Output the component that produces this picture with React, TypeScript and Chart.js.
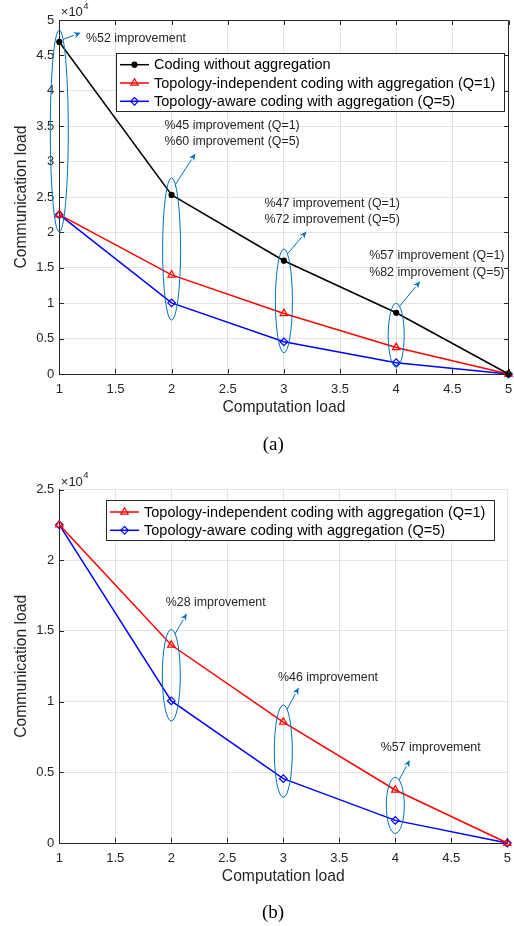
import React, { useEffect, useRef } from 'react';
import { Chart, registerables } from 'chart.js';
Chart.register(...registerables);

// ---------- data ----------
const computationLoad = [1, 2, 3, 4, 5];
const codingWithoutAggregation = [46900, 25300, 16000, 8650, 0];
const topologyIndependent = [22500, 14000, 8550, 3750, 0];
const topologyAware = [22500, 10050, 4550, 1600, 0];

const labelNoAgg = 'Coding without aggregation';
const labelIndep = 'Topology-independent coding with aggregation (Q=1)';
const labelAware = 'Topology-aware coding with aggregation (Q=5)';

const xAxisTitle = 'Computation load';
const yAxisTitle = 'Communication load';

// annotation ellipses (data units) and texts, panel (a)
const ellipseXA = [1, 2, 3, 4];
const ellipseTopA = [48600, 27700, 17660, 9990];
const ellipseBottomA = [20060, 7600, 3000, 950];
const annotationTextsA = [
  ['%52 improvement'],
  ['%45 improvement (Q=1)', '%60 improvement (Q=5)'],
  ['%47 improvement (Q=1)', '%72 improvement (Q=5)'],
  ['%57 improvement (Q=1)', '%82 improvement (Q=5)'],
];
// panel (b)
const ellipseXB = [2, 3, 4];
const ellipseTopB = [15100, 9760, 4650];
const ellipseBottomB = [8630, 3230, 680];
const annotationTextsB = [['%28 improvement'], ['%46 improvement'], ['%57 improvement']];

// ---------- styling / layout (not data) ----------
const SANS = '"Liberation Sans", Arial, Helvetica, sans-serif';
const AX = '#262626';
const GRID = '#e3e3e3';
const ANN = '#0072BD';

const arrowStyleA = [
  { hw: 9, arrow: [17.7, -6.7], text: [5.3, 6] },
  { hw: 9, arrow: [20, -31], text: [-31, -28] },
  { hw: 8.5, arrow: [19, -22.3], text: [-42, -27.7] },
  { hw: 8, arrow: [20.6, -25], text: [-51, -25.3] },
];
const arrowStyleB = [
  { hw: 9, arrow: [11.7, -20.3], text: [-21, -11] },
  { hw: 9, arrow: [11.7, -21.7], text: [-20.7, -10] },
  { hw: 9, arrow: [10.7, -20], text: [-29, -12.4] },
];

type Series = { label: string; data: number[]; color: string; style: string; radius: number; filled: boolean };

const seriesNoAgg: Series = { label: labelNoAgg, data: codingWithoutAggregation, color: '#000000', style: 'circle', radius: 2.5, filled: true };
const seriesIndep: Series = { label: labelIndep, data: topologyIndependent, color: '#ff0000', style: 'triangle', radius: 4.3, filled: false };
const seriesAware: Series = { label: labelAware, data: topologyAware, color: '#0000ff', style: 'rectRot', radius: 3.8, filled: false };

function drawMarker(ctx: CanvasRenderingContext2D, s: Series, x: number, y: number) {
  const r = s.radius;
  ctx.beginPath();
  if (s.style === 'circle') {
    ctx.arc(x, y, r, 0, Math.PI * 2);
  } else if (s.style === 'triangle') {
    for (let i = 0; i < 3; i++) {
      const a = (i * 2 * Math.PI) / 3;
      const px = x + Math.sin(a) * r;
      const py = y - Math.cos(a) * r;
      if (i === 0) ctx.moveTo(px, py);
      else ctx.lineTo(px, py);
    }
    ctx.closePath();
  } else {
    ctx.moveTo(x, y - r);
    ctx.lineTo(x + r, y);
    ctx.lineTo(x, y + r);
    ctx.lineTo(x - r, y);
    ctx.closePath();
  }
  if (s.filled) {
    ctx.fillStyle = s.color;
    ctx.fill();
  }
  ctx.strokeStyle = s.color;
  ctx.lineWidth = 1.2;
  ctx.stroke();
}

type PanelOpts = {
  series: Series[];
  yMax: number;
  box: boolean;
  legendDx: number;
  legendDy: number;
  ellX: number[];
  ellTop: number[];
  ellBot: number[];
  texts: string[][];
  arrows: { hw: number; arrow: number[]; text: number[] }[];
  caption: string;
  captionX: number;
  captionY: number;
  canvasH: number;
  padTop: number;
  padRight: number;
  xAxisH: number;
};

function makeConfig(o: PanelOpts): any {
  const overlay = {
    id: 'overlay',
    afterDatasetsDraw(chart: any) {
      const { ctx, chartArea: ca, scales } = chart;
      const xs = scales.x;
      const ys = scales.y;
      ctx.save();
      ctx.strokeStyle = AX;
      ctx.lineWidth = 1;
      const L = Math.round(ca.left) + 0.5;
      const R = Math.round(ca.right) - 0.5;
      const T = Math.round(ca.top) + 0.5;
      const B = Math.round(ca.bottom) - 0.5;
      if (o.box) {
        ctx.beginPath();
        ctx.moveTo(L, T);
        ctx.lineTo(R, T);
        ctx.lineTo(R, B);
        ctx.stroke();
      }
      // inward ticks
      const tl = 4.5;
      ctx.beginPath();
      xs.ticks.forEach((t: any) => {
        const px = Math.round(xs.getPixelForValue(t.value)) + 0.5;
        ctx.moveTo(px, B);
        ctx.lineTo(px, B - tl);
        if (o.box) {
          ctx.moveTo(px, T);
          ctx.lineTo(px, T + tl);
        }
      });
      ys.ticks.forEach((t: any) => {
        const py = Math.round(ys.getPixelForValue(t.value)) + 0.5;
        ctx.moveTo(L, py);
        ctx.lineTo(L + tl, py);
        if (o.box) {
          ctx.moveTo(R, py);
          ctx.lineTo(R - tl, py);
        }
      });
      ctx.stroke();

      // ellipses, arrows, texts
      ctx.strokeStyle = ANN;
      ctx.fillStyle = ANN;
      ctx.lineWidth = 1;
      o.ellX.forEach((xv, i) => {
        const st = o.arrows[i];
        const cx = xs.getPixelForValue(xv);
        const yt = ys.getPixelForValue(o.ellTop[i]);
        const yb = ys.getPixelForValue(o.ellBot[i]);
        const cy = (yt + yb) / 2;
        const b = (yb - yt) / 2;
        ctx.strokeStyle = ANN;
        ctx.beginPath();
        ctx.ellipse(cx, cy, st.hw, b, 0, 0, Math.PI * 2);
        ctx.stroke();
        const th = (65 * Math.PI) / 180;
        const sx = cx + st.hw * Math.cos(th);
        const sy = cy - b * Math.sin(th);
        const ex = sx + st.arrow[0];
        const ey = sy + st.arrow[1];
        const ang = Math.atan2(st.arrow[1], st.arrow[0]);
        const hl = 7;
        const hw = 3;
        const bx = ex - hl * Math.cos(ang);
        const by = ey - hl * Math.sin(ang);
        ctx.beginPath();
        ctx.moveTo(sx, sy);
        ctx.lineTo(bx, by);
        ctx.stroke();
        ctx.beginPath();
        ctx.moveTo(ex, ey);
        ctx.lineTo(bx + hw * Math.sin(ang), by - hw * Math.cos(ang));
        ctx.lineTo(bx + 2 * Math.cos(ang), by + 2 * Math.sin(ang));
        ctx.lineTo(bx - hw * Math.sin(ang), by + hw * Math.cos(ang));
        ctx.closePath();
        ctx.fill();
        ctx.save();
        ctx.fillStyle = AX;
        ctx.font = `12.4px ${SANS}`;
        ctx.textAlign = 'left';
        ctx.textBaseline = 'middle';
        o.texts[i].forEach((line, k) => {
          ctx.fillText(line, ex + st.text[0], ey + st.text[1] + k * 16.2);
        });
        ctx.restore();
      });
      ctx.restore();
    },
    afterDraw(chart: any) {
      const { ctx, chartArea: ca } = chart;
      ctx.save();
      // axis titles
      ctx.fillStyle = AX;
      ctx.font = `15.7px ${SANS}`;
      ctx.textAlign = 'center';
      ctx.textBaseline = 'middle';
      ctx.fillText(xAxisTitle, (ca.left + ca.right) / 2, ca.bottom + 34);
      ctx.save();
      ctx.translate(21.7, (ca.top + ca.bottom) / 2);
      ctx.rotate(-Math.PI / 2);
      ctx.fillText(yAxisTitle, 0, 0);
      ctx.restore();
      // exponent
      ctx.textAlign = 'left';
      ctx.font = `13px ${SANS}`;
      const base = '\u00d710';
      ctx.fillText(base, ca.left + 1.5, ca.top - 7.5);
      const w = ctx.measureText(base).width;
      ctx.font = `9.5px ${SANS}`;
      ctx.fillText('4', ca.left + 1.5 + w + 0.5, ca.top - 14);
      // legend
      ctx.font = `14.5px ${SANS}`;
      let maxW = 0;
      o.series.forEach((s) => (maxW = Math.max(maxW, ctx.measureText(s.label).width)));
      const lx = ca.left + o.legendDx;
      const ly = ca.top + o.legendDy;
      const rowH = 18.3;
      const bw = maxW + 38 + 9;
      const bh = o.series.length * rowH + 3.5;
      ctx.fillStyle = '#ffffff';
      ctx.fillRect(lx, ly, bw, bh);
      ctx.strokeStyle = AX;
      ctx.lineWidth = 1;
      ctx.strokeRect(Math.round(lx) + 0.5, Math.round(ly) + 0.5, Math.round(bw), Math.round(bh));
      o.series.forEach((s, i) => {
        const yy = ly + 12 + i * rowH;
        ctx.strokeStyle = s.color;
        ctx.lineWidth = 1.5;
        ctx.beginPath();
        ctx.moveTo(lx + 4, yy);
        ctx.lineTo(lx + 33, yy);
        ctx.stroke();
        drawMarker(ctx, s, lx + 18.5, yy);
        ctx.fillStyle = '#000000';
        ctx.textBaseline = 'middle';
        ctx.fillText(s.label, lx + 38, yy + 0.5);
      });
      // caption
      ctx.font = `19px "Liberation Serif", "Times New Roman", serif`;
      ctx.textAlign = 'center';
      ctx.fillStyle = '#000000';
      ctx.fillText(o.caption, o.captionX, o.captionY);
      ctx.restore();
    },
  };

  return {
    type: 'line',
    data: {
      datasets: o.series.map((s) => ({
        label: s.label,
        data: computationLoad.map((x, i) => ({ x, y: s.data[i] })),
        borderColor: s.color,
        borderWidth: 1.5,
        backgroundColor: s.filled ? s.color : 'rgba(0,0,0,0)',
        pointBackgroundColor: s.filled ? s.color : 'rgba(0,0,0,0)',
        pointBorderColor: s.color,
        pointBorderWidth: 1.2,
        pointStyle: s.style,
        pointRadius: s.radius,
        tension: 0,
        clip: false,
      })),
    },
    options: {
      animation: false,
      responsive: false,
      devicePixelRatio: 1,
      layout: { padding: { top: o.padTop, right: o.padRight, left: 0, bottom: 0 } },
      plugins: { legend: { display: false }, tooltip: { enabled: false } },
      scales: {
        x: {
          type: 'linear',
          min: 1,
          max: 5,
          ticks: {
            stepSize: 0.5,
            color: AX,
            font: { family: SANS, size: 13 },
            padding: 8,
            maxRotation: 0,
            callback: (v: any) => String(Number(v)),
          },
          grid: { color: GRID, drawTicks: false },
          border: { display: true, color: AX, width: 1 },
          afterFit: (s: any) => {
            s.height = o.xAxisH;
            s.paddingLeft = 0;
            s.paddingRight = 0;
          },
        },
        y: {
          type: 'linear',
          min: 0,
          max: o.yMax,
          ticks: {
            stepSize: 5000,
            color: AX,
            font: { family: SANS, size: 13 },
            padding: 5,
            callback: (v: any) => String(Number(v) / 1e4),
          },
          grid: { color: GRID, drawTicks: false },
          border: { display: true, color: AX, width: 1 },
          afterFit: (s: any) => {
            s.width = 59.3;
            s.paddingTop = 0;
            s.paddingBottom = 0;
          },
        },
      },
    },
    plugins: [overlay],
  };
}

const panelA: PanelOpts = {
  series: [seriesNoAgg, seriesIndep, seriesAware],
  yMax: 50000,
  box: true,
  legendDx: 56.7,
  legendDy: 32.7,
  ellX: ellipseXA,
  ellTop: ellipseTopA,
  ellBot: ellipseBottomA,
  texts: annotationTextsA,
  arrows: arrowStyleA,
  caption: '(a)',
  captionX: 273.3,
  captionY: 445,
  canvasH: 460,
  padTop: 20,
  padRight: 5.5,
  xAxisH: 86,
};

const panelB: PanelOpts = {
  series: [seriesIndep, seriesAware],
  yMax: 25000,
  box: false,
  legendDx: 46.7,
  legendDy: 10.5,
  ellX: ellipseXB,
  ellTop: ellipseTopB,
  ellBot: ellipseBottomB,
  texts: annotationTextsB,
  arrows: arrowStyleB,
  caption: '(b)',
  captionX: 273,
  captionY: 453,
  canvasH: 466,
  padTop: 29.5,
  padRight: 6.7,
  xAxisH: 83,
};

function Panel({ opts, top }: { opts: PanelOpts; top: number }) {
  const ref = useRef<HTMLCanvasElement>(null);
  useEffect(() => {
    const chart = new Chart(ref.current as HTMLCanvasElement, makeConfig(opts));
    return () => chart.destroy();
  }, [opts]);
  return (
    <canvas
      ref={ref}
      width={514}
      height={opts.canvasH}
      style={{ position: 'absolute', left: 0, top, width: 514, height: opts.canvasH, display: 'block' }}
    />
  );
}

export default function App() {
  return (
    <div style={{ position: 'absolute', left: 0, top: 0, width: 514, height: 926, background: '#ffffff' }}>
      <Panel opts={panelA} top={0} />
      <Panel opts={panelB} top={460} />
    </div>
  );
}
